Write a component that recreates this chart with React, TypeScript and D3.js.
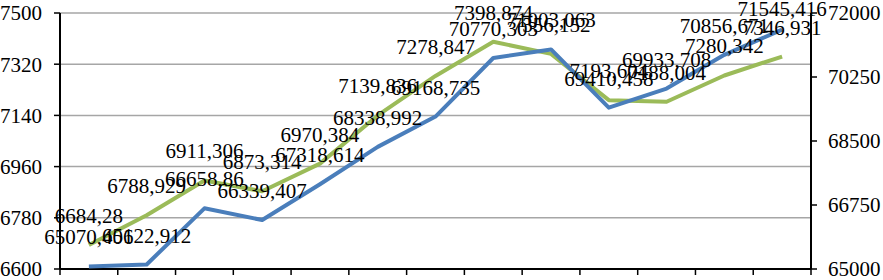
import React, { useRef, useEffect } from 'react';
import * as d3 from 'd3';

const categories = ['1', '2', '3', '4', '5', '6', '7', '8', '9', '10', '11', '12', '13'];

// left axis series (green)
const greenValues = [6684.28, 6788.929, 6911.306, 6873.314, 6970.384, 7139.836, 7278.847, 7398.874, 7356.152, 7193.604, 7188.004, 7280.342, 7346.931];
// right axis series (blue)
const blueValues = [65070.406, 65122.912, 66658.86, 66339.407, 67318.614, 68338.992, 69168.735, 70770.303, 71003.063, 69410.458, 69933.708, 70856.671, 71545.416];

const leftTicks = [6600, 6780, 6960, 7140, 7320, 7500];
const rightTicks = [65000, 66750, 68500, 70250, 72000];

const width = 883;
const height = 280;

const fmt = (v: number) => String(v).replace('.', ',');

const App = () => {
  const svgRef = useRef<SVGSVGElement>(null);

  useEffect(() => {
    const svg = d3.select(svgRef.current);
    svg.selectAll('*').remove();

    const left = 60, right = 811, top = 13, bottom = 269;
    const font = '"Liberation Serif", "Times New Roman", serif';

    const x = d3.scaleBand<string>().domain(categories).range([left, right]);
    const cx = (i: number) => (x(categories[i]) as number) + x.bandwidth() / 2;
    const yL = d3.scaleLinear().domain([6600, 7500]).range([bottom, top]);
    const yR = d3.scaleLinear().domain([65000, 72000]).range([bottom, top]);
    // label baseline above the point, kept inside the chart
    const labelY = (py: number) => Math.max(16, py - 22);

    // gridlines
    svg.append('g')
      .selectAll('line')
      .data(leftTicks.slice(1))
      .join('line')
      .attr('x1', left).attr('x2', right)
      .attr('y1', d => yL(d)).attr('y2', d => yL(d))
      .attr('stroke', '#a6a6a6').attr('stroke-width', 1.5);

    // left axis
    const gl = svg.append('g');
    gl.append('line').attr('x1', left).attr('x2', left).attr('y1', top).attr('y2', bottom)
      .attr('stroke', '#000').attr('stroke-width', 2);
    gl.selectAll('line.t').data(leftTicks).join('line').attr('class', 't')
      .attr('x1', left - 6).attr('x2', left).attr('y1', d => yL(d)).attr('y2', d => yL(d))
      .attr('stroke', '#000').attr('stroke-width', 1.5);
    gl.selectAll('text').data(leftTicks).join('text')
      .attr('x', 42).attr('y', d => yL(d)).attr('dy', '0.35em')
      .attr('text-anchor', 'end').attr('font-family', font).attr('font-size', 21)
      .text(d => d);

    // right axis
    const gr = svg.append('g');
    gr.append('line').attr('x1', right).attr('x2', right).attr('y1', top).attr('y2', bottom)
      .attr('stroke', '#000').attr('stroke-width', 2);
    gr.selectAll('line.t').data(rightTicks).join('line').attr('class', 't')
      .attr('x1', right).attr('x2', right + 6).attr('y1', d => yR(d)).attr('y2', d => yR(d))
      .attr('stroke', '#000').attr('stroke-width', 1.5);
    gr.selectAll('text').data(rightTicks).join('text')
      .attr('x', 828).attr('y', d => yR(d)).attr('dy', '0.35em')
      .attr('text-anchor', 'start').attr('font-family', font).attr('font-size', 21)
      .text(d => d);

    // x axis
    const gx = svg.append('g');
    gx.append('line').attr('x1', left).attr('x2', right).attr('y1', bottom).attr('y2', bottom)
      .attr('stroke', '#000').attr('stroke-width', 2);
    const bounds = categories.map(c => x(c) as number).concat([right]);
    gx.selectAll('line.t').data(bounds).join('line').attr('class', 't')
      .attr('x1', d => d).attr('x2', d => d).attr('y1', bottom).attr('y2', bottom + 6)
      .attr('stroke', '#000').attr('stroke-width', 1.5);

    // lines
    const lineL = d3.line<number>().x((d, i) => cx(i)).y(d => yL(d));
    const lineR = d3.line<number>().x((d, i) => cx(i)).y(d => yR(d));

    svg.append('path').datum(greenValues).attr('d', lineL)
      .attr('fill', 'none').attr('stroke', '#9bbb59').attr('stroke-width', 4)
      .attr('stroke-linejoin', 'round');
    svg.append('path').datum(blueValues).attr('d', lineR)
      .attr('fill', 'none').attr('stroke', '#4a7ebb').attr('stroke-width', 4)
      .attr('stroke-linejoin', 'round');

    // data labels
    svg.append('g').selectAll('text').data(greenValues).join('text')
      .attr('x', (d, i) => cx(i)).attr('y', d => labelY(yL(d)))
      .attr('text-anchor', 'middle').attr('font-family', font).attr('font-size', 21)
      .text(d => fmt(d));
    svg.append('g').selectAll('text').data(blueValues).join('text')
      .attr('x', (d, i) => cx(i)).attr('y', d => labelY(yR(d)))
      .attr('text-anchor', 'middle').attr('font-family', font).attr('font-size', 21)
      .text(d => fmt(d));
  }, []);

  return (
    <svg ref={svgRef} width={width} height={height}
      style={{ position: 'absolute', left: 0, top: 0, background: '#fff' }} />
  );
};

export default App;
